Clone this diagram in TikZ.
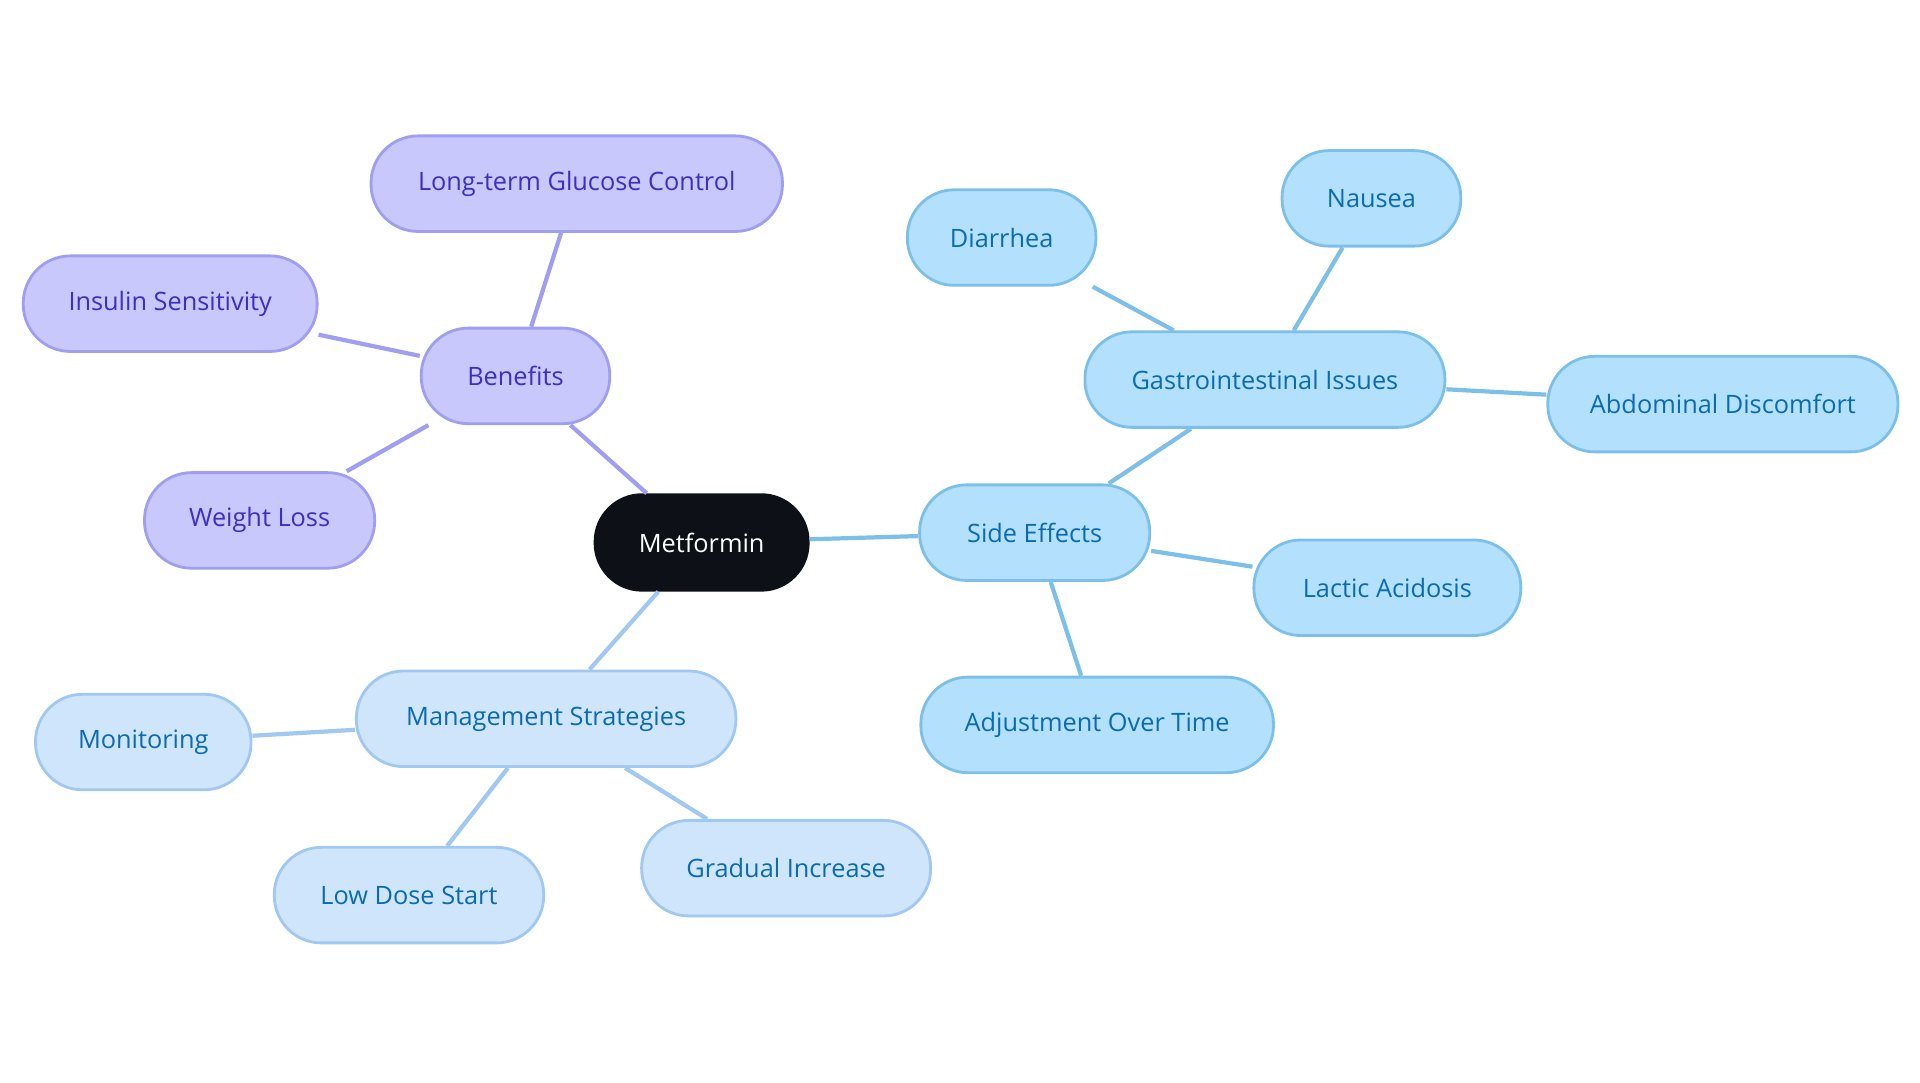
\documentclass[tikz,border=0pt]{standalone}
\usepackage{fontspec}
\setmainfont{Open Sans}
\usetikzlibrary{positioning}
\definecolor{rootfill}{HTML}{0D1117}
\definecolor{benfill}{HTML}{C8C8FC}
\definecolor{bendraw}{HTML}{A09EF0}
\definecolor{bentext}{HTML}{3B30C0}
\definecolor{sidefill}{HTML}{B3E0FC}
\definecolor{sidedraw}{HTML}{7CC0EA}
\definecolor{sidetext}{HTML}{0A6BB0}
\definecolor{manfill}{HTML}{CFE5FC}
\definecolor{mandraw}{HTML}{A0C8F0}
\tikzset{base node/.style={rounded corners=0.47cm,minimum height=0.955cm,inner sep=0pt,line width=0.8pt,font=\fontsize{7.2}{9}\selectfont},
ben node/.style={base node,fill=benfill,draw=bendraw,text=bentext},
side node/.style={base node,fill=sidefill,draw=sidedraw,text=sidetext},
man node/.style={base node,fill=manfill,draw=mandraw,text=sidetext}}

\begin{document}
\begin{tikzpicture}[x=0.012245cm,y=-0.012245cm]
            \useasboundingbox (0,0) rectangle (1568,884);
            \node[base node,fill=rootfill,draw=rootfill,text=white,minimum width=2.13cm] (root) at (573,443) {Metformin};
            \foreach \x/\y/\w/\n/\t in {421/307/154/ben/Benefits,471/150/336/glu/Long-term Glucose Control,139/248/240/ins/Insulin Sensitivity,212/425/188/wei/Weight Loss}{
                \node[ben node,minimum width=\w*0.012245cm] (\n) at (\x,\y) {\t};
            }
            \foreach \x/\y/\w/\n/\t in {845/435/188/side/Side Effects,1033/310/294/gas/Gastrointestinal Issues,818/194/154/dia/Diarrhea,1120/162/146/nau/Nausea,1407/330/286/abd/Abdominal Discomfort,1133/480/218/lac/Lactic Acidosis,896/592/288/adj/Adjustment Over Time}{
                \node[side node,minimum width=\w*0.012245cm] (\n) at (\x,\y) {\t};
            }
            \foreach \x/\y/\w/\n/\t in {446/587/310/man/Management Strategies,117/606/176/mon/Monitoring,334/731/220/low/Low Dose Start,642/709/236/gra/Gradual Increase}{
                \node[man node,minimum width=\w*0.012245cm] (\n) at (\x,\y) {\t};
            }

            \foreach \a/\b in {root/ben,ben/glu,ben/ins,ben/wei}{
                \draw[bendraw,line width=1.2pt] (\a) -- (\b);
            }
            \foreach \a/\b in {root/side,side/gas,gas/dia,gas/nau,gas/abd,side/lac,side/adj}{
                \draw[sidedraw,line width=1.2pt] (\a) -- (\b);
            }
            \foreach \a/\b in {root/man,man/mon,man/low,man/gra}{
                \draw[mandraw,line width=1.2pt] (\a) -- (\b);
            }
        \end{tikzpicture}
\end{document}
